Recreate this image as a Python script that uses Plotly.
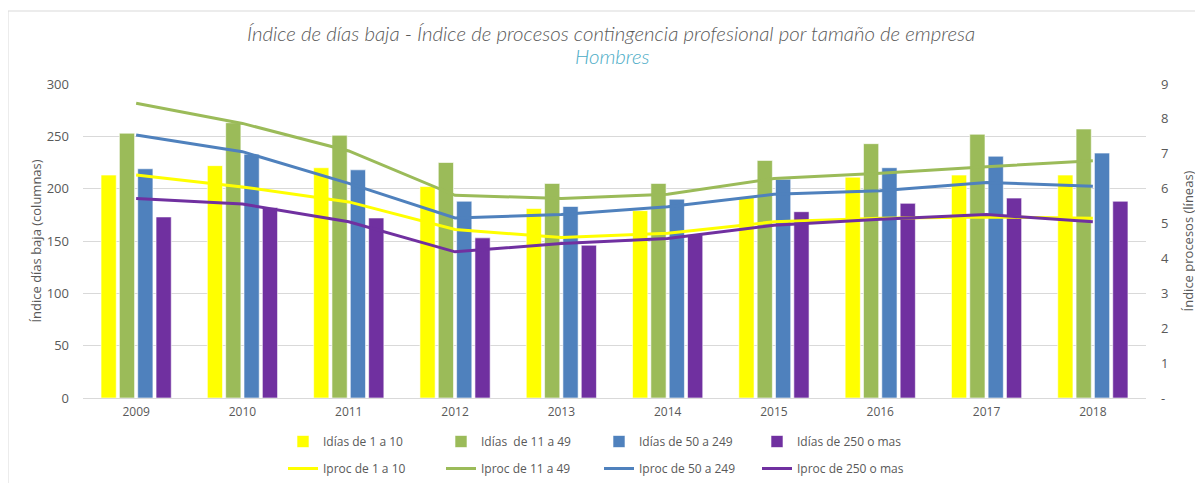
import plotly.graph_objects as go

years = ["2009", "2010", "2011", "2012", "2013", "2014", "2015", "2016", "2017", "2018"]

# Índice días baja (columns, left axis)
idias_1_10 = [213, 222, 220, 202, 181, 179, 192, 211, 213, 213]
idias_11_49 = [253, 263, 251, 225, 205, 205, 227, 243, 252, 257]
idias_50_249 = [219, 233, 218, 188, 183, 190, 209, 220, 231, 234]
idias_250 = [173, 182, 172, 153, 146, 156, 178, 186, 191, 188]

# Índice procesos (lines, right axis)
iproc_1_10 = [6.39, 6.05, 5.62, 4.83, 4.60, 4.72, 5.05, 5.15, 5.19, 5.15]
iproc_11_49 = [8.45, 7.87, 7.08, 5.81, 5.72, 5.84, 6.29, 6.44, 6.63, 6.80]
iproc_50_249 = [7.54, 7.06, 6.15, 5.16, 5.26, 5.48, 5.84, 5.94, 6.18, 6.07]
iproc_250 = [5.72, 5.56, 5.05, 4.19, 4.43, 4.57, 4.95, 5.12, 5.26, 5.05]

bar_names = ["Idías de 1 a 10", "Idías\u00a0 de 11 a 49", "Idías de 50 a 249", "Idías de 250 o mas"]
line_names = ["Iproc de 1 a 10", "Iproc de 11 a 49", "Iproc de 50 a 249", "Iproc de 250 o mas"]
colors = ["#FFFF00", "#9BBB59", "#4F81BD", "#7030A0"]

right_ticks = [0, 1, 2, 3, 4, 5, 6, 7, 8, 9]
right_ticktext = ["-", "1", "2", "3", "4", "5", "6", "7", "8", "9"]

title_line1 = "Índice de días baja - Índice de procesos contingencia profesional por tamaño de empresa"
title_line2 = "Hombres"

fig = go.Figure()
for name, vals, c in zip(bar_names, [idias_1_10, idias_11_49, idias_50_249, idias_250], colors):
    fig.add_trace(go.Bar(x=years, y=vals, name=name, marker=dict(color=c, line=dict(color="white", width=0.6)),
                         legend="legend", yaxis="y"))
for name, vals, c in zip(line_names, [iproc_1_10, iproc_11_49, iproc_50_249, iproc_250], colors):
    fig.add_trace(go.Scatter(x=years, y=vals, name=name, mode="lines", line=dict(color=c, width=3),
                             legend="legend2", yaxis="y2"))

# The page body adds an 8px offset, so the figure is laid out in page coords minus 8.
W, H = 1195, 475
ml, mr, mt, mb = 75, 57, 76, 85
pw, ph = W - ml - mr, H - mt - mb

def px_x(x):
    return (x - ml) / pw

def px_y(y):
    return (H - mb - y) / ph

def cx(x):
    return x / W

def cy(y):
    return (H - y) / H

title_font = "Lato, 'Open Sans', sans-serif"
font_family = "'Open Sans', 'Noto Sans', sans-serif"
grey = "#595959"

fig.update_layout(
    width=W, height=H,
    margin=dict(l=ml, r=mr, t=mt, b=mb, autoexpand=False),
    paper_bgcolor="white", plot_bgcolor="white",
    font=dict(family=font_family, color=grey, size=12),
    barmode="group", bargap=0.31, bargroupgap=0.17,
    annotations=[
        dict(text="<i>" + title_line1 + "</i>", xref="paper", yref="paper", x=px_x(603), y=px_y(25),
             xanchor="center", yanchor="middle", showarrow=False,
             font=dict(family=title_font, size=20.4, color=grey, weight=300)),
        dict(text="<i>" + title_line2 + "</i>", xref="paper", yref="paper", x=px_x(604), y=px_y(48),
             xanchor="center", yanchor="middle", showarrow=False,
             font=dict(family=title_font, size=20.4, color="#4BACC6", weight=300)),
    ],
    xaxis=dict(showgrid=False, showline=True, linecolor="#D9D9D9", linewidth=1, ticks="",
               tickfont=dict(size=12, color=grey), automargin=False, ticklabelstandoff=3),
    yaxis=dict(range=[0, 300], dtick=50, showgrid=True, gridcolor="#D9D9D9", gridwidth=1,
               zeroline=False, ticks="", tickfont=dict(size=13, color=grey), automargin=False,
               ticklabelstandoff=13,
               title=dict(text="Índice días baja (columnas)", font=dict(size=13, color=grey), standoff=2)),
    yaxis2=dict(range=[0, 9], overlaying="y", side="right", tickvals=right_ticks, ticktext=right_ticktext,
                showgrid=False, zeroline=False, ticks="", tickfont=dict(size=13, color=grey),
                automargin=False, ticklabelstandoff=14,
                title=dict(text="Índice procesos (líneas)", font=dict(size=13, color=grey), standoff=15)),
    legend=dict(orientation="h", x=cx(275), xref="container", y=cy(419), yref="container",
                xanchor="left", yanchor="top",
                entrywidth=113, entrywidthmode="pixels", font=dict(size=12, color=grey),
                bgcolor="rgba(0,0,0,0)", traceorder="normal", itemclick=False),
    legend2=dict(orientation="h", x=cx(275), xref="container", y=cy(446), yref="container",
                 xanchor="left", yanchor="top",
                 entrywidth=113, entrywidthmode="pixels", font=dict(size=12, color=grey),
                 bgcolor="rgba(0,0,0,0)", traceorder="normal", itemclick=False),
    shapes=[dict(type="rect", xref="paper", yref="paper",
                 x0=px_x(0), x1=px_x(1230), y0=px_y(500), y1=px_y(3),
                 line=dict(color="#D9D9D9", width=1), fillcolor="rgba(0,0,0,0)", layer="below")],
    showlegend=True,
)

fig.write_html("out.html")
